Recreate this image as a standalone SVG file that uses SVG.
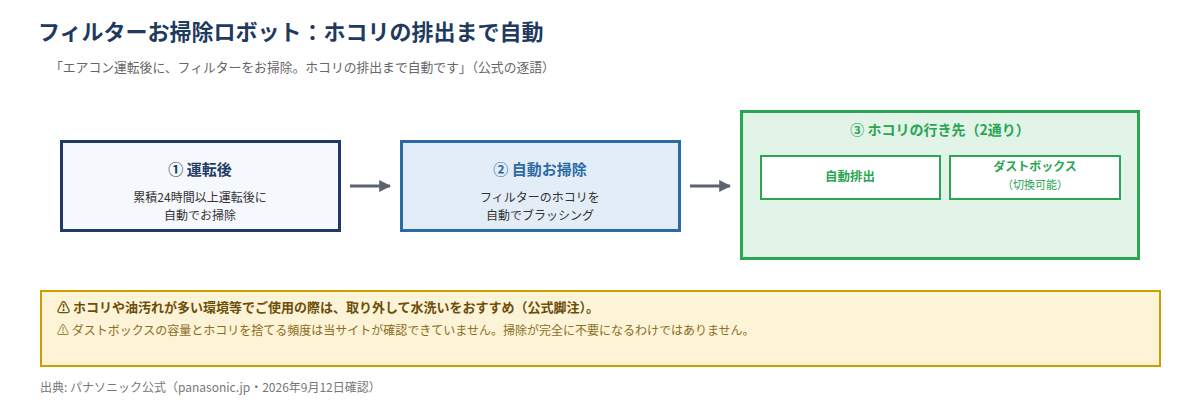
<svg xmlns="http://www.w3.org/2000/svg" width="1200" height="400" viewBox="0 0 1200 400">
<defs>
<style>
text{font-family:"Noto Sans CJK JP","Noto Sans",sans-serif}
.title{font-size:22px;font-weight:700;fill:#1f3a5f}
.sub{font-size:12.8px;fill:#666}
.ntitle{font-size:15px;font-weight:700;text-anchor:middle}
.nbody{font-size:12px;fill:#333;text-anchor:middle}
.g{fill:#2aa552;text-anchor:middle}
.conn{stroke:#5b6370;stroke-width:3;fill:none}
.warn1{font-size:13px;font-weight:700;fill:#6b4e0a}
.warn2{font-size:12px;fill:#8a6d1e}
.foot{font-size:12px;fill:#777}
</style>
<marker id="ah" viewBox="0 0 10 10" refX="9" refY="5" markerWidth="4" markerHeight="4" orient="auto" markerUnits="strokeWidth">
<path d="M0,0 L10,5 L0,10 z" fill="#5b6370"/>
</marker>
</defs>
<rect width="1200" height="400" fill="#fff"/>
<text class="title" x="38" y="40">フィルターお掃除ロボット：ホコリの排出まで自動</text>
<text class="sub" x="50" y="72">「エアコン運転後に、フィルターをお掃除。ホコリの排出まで自動です」（公式の逐語）</text>

<g id="node1">
<rect x="61.5" y="141.5" width="278" height="89" fill="#f5f8fc" stroke="#1f3a66" stroke-width="3"/>
<text class="ntitle" x="200" y="175" fill="#1f3a66">① 運転後</text>
<text class="nbody" x="200" y="202">累積24時間以上運転後に</text>
<text class="nbody" x="200" y="220">自動でお掃除</text>
</g>

<g id="node2">
<rect x="401.5" y="141.5" width="278" height="89" fill="#e3edf8" stroke="#2d6aa3" stroke-width="3"/>
<text class="ntitle" x="540" y="175" fill="#2d6aa3">② 自動お掃除</text>
<text class="nbody" x="540" y="202">フィルターのホコリを</text>
<text class="nbody" x="540" y="220">自動でブラッシング</text>
</g>

<g id="node3">
<rect x="741.5" y="111.5" width="397" height="147" fill="#e2f3e8" stroke="#2aa552" stroke-width="3"/>
<text class="g" x="940" y="135" font-size="14" font-weight="700">③ ホコリの行き先（2通り）</text>
<g id="node3a">
<rect x="761" y="156" width="179" height="43" fill="#fff" stroke="#2aa552" stroke-width="2"/>
<text class="g" x="850" y="181" font-size="12.5" font-weight="700">自動排出</text>
</g>
<g id="node3b">
<rect x="950" y="156" width="170" height="43" fill="#fff" stroke="#2aa552" stroke-width="2"/>
<text class="g" x="1035" y="171" font-size="12" font-weight="700">ダストボックス</text>
<text class="g" x="1035" y="189" font-size="11">（切換可能）</text>
</g>
</g>

<g id="connectors">
<line class="conn" x1="350" y1="186" x2="390" y2="186" marker-end="url(#ah)"/>
<line class="conn" x1="690" y1="186" x2="730" y2="186" marker-end="url(#ah)"/>
</g>

<g id="warning">
<rect x="41" y="291" width="1119" height="75" fill="#fdf3d6" stroke="#c9a000" stroke-width="2"/>
<text class="warn1" x="57" y="312">⚠ ホコリや油汚れが多い環境等でご使用の際は、取り外して水洗いをおすすめ（公式脚注）。</text>
<text class="warn2" x="57" y="335">⚠ ダストボックスの容量とホコリを捨てる頻度は当サイトが確認できていません。掃除が完全に不要になるわけではありません。</text>
</g>

<text class="foot" x="40" y="392">出典: パナソニック公式（panasonic.jp・2026年9月12日確認）</text>
</svg>
